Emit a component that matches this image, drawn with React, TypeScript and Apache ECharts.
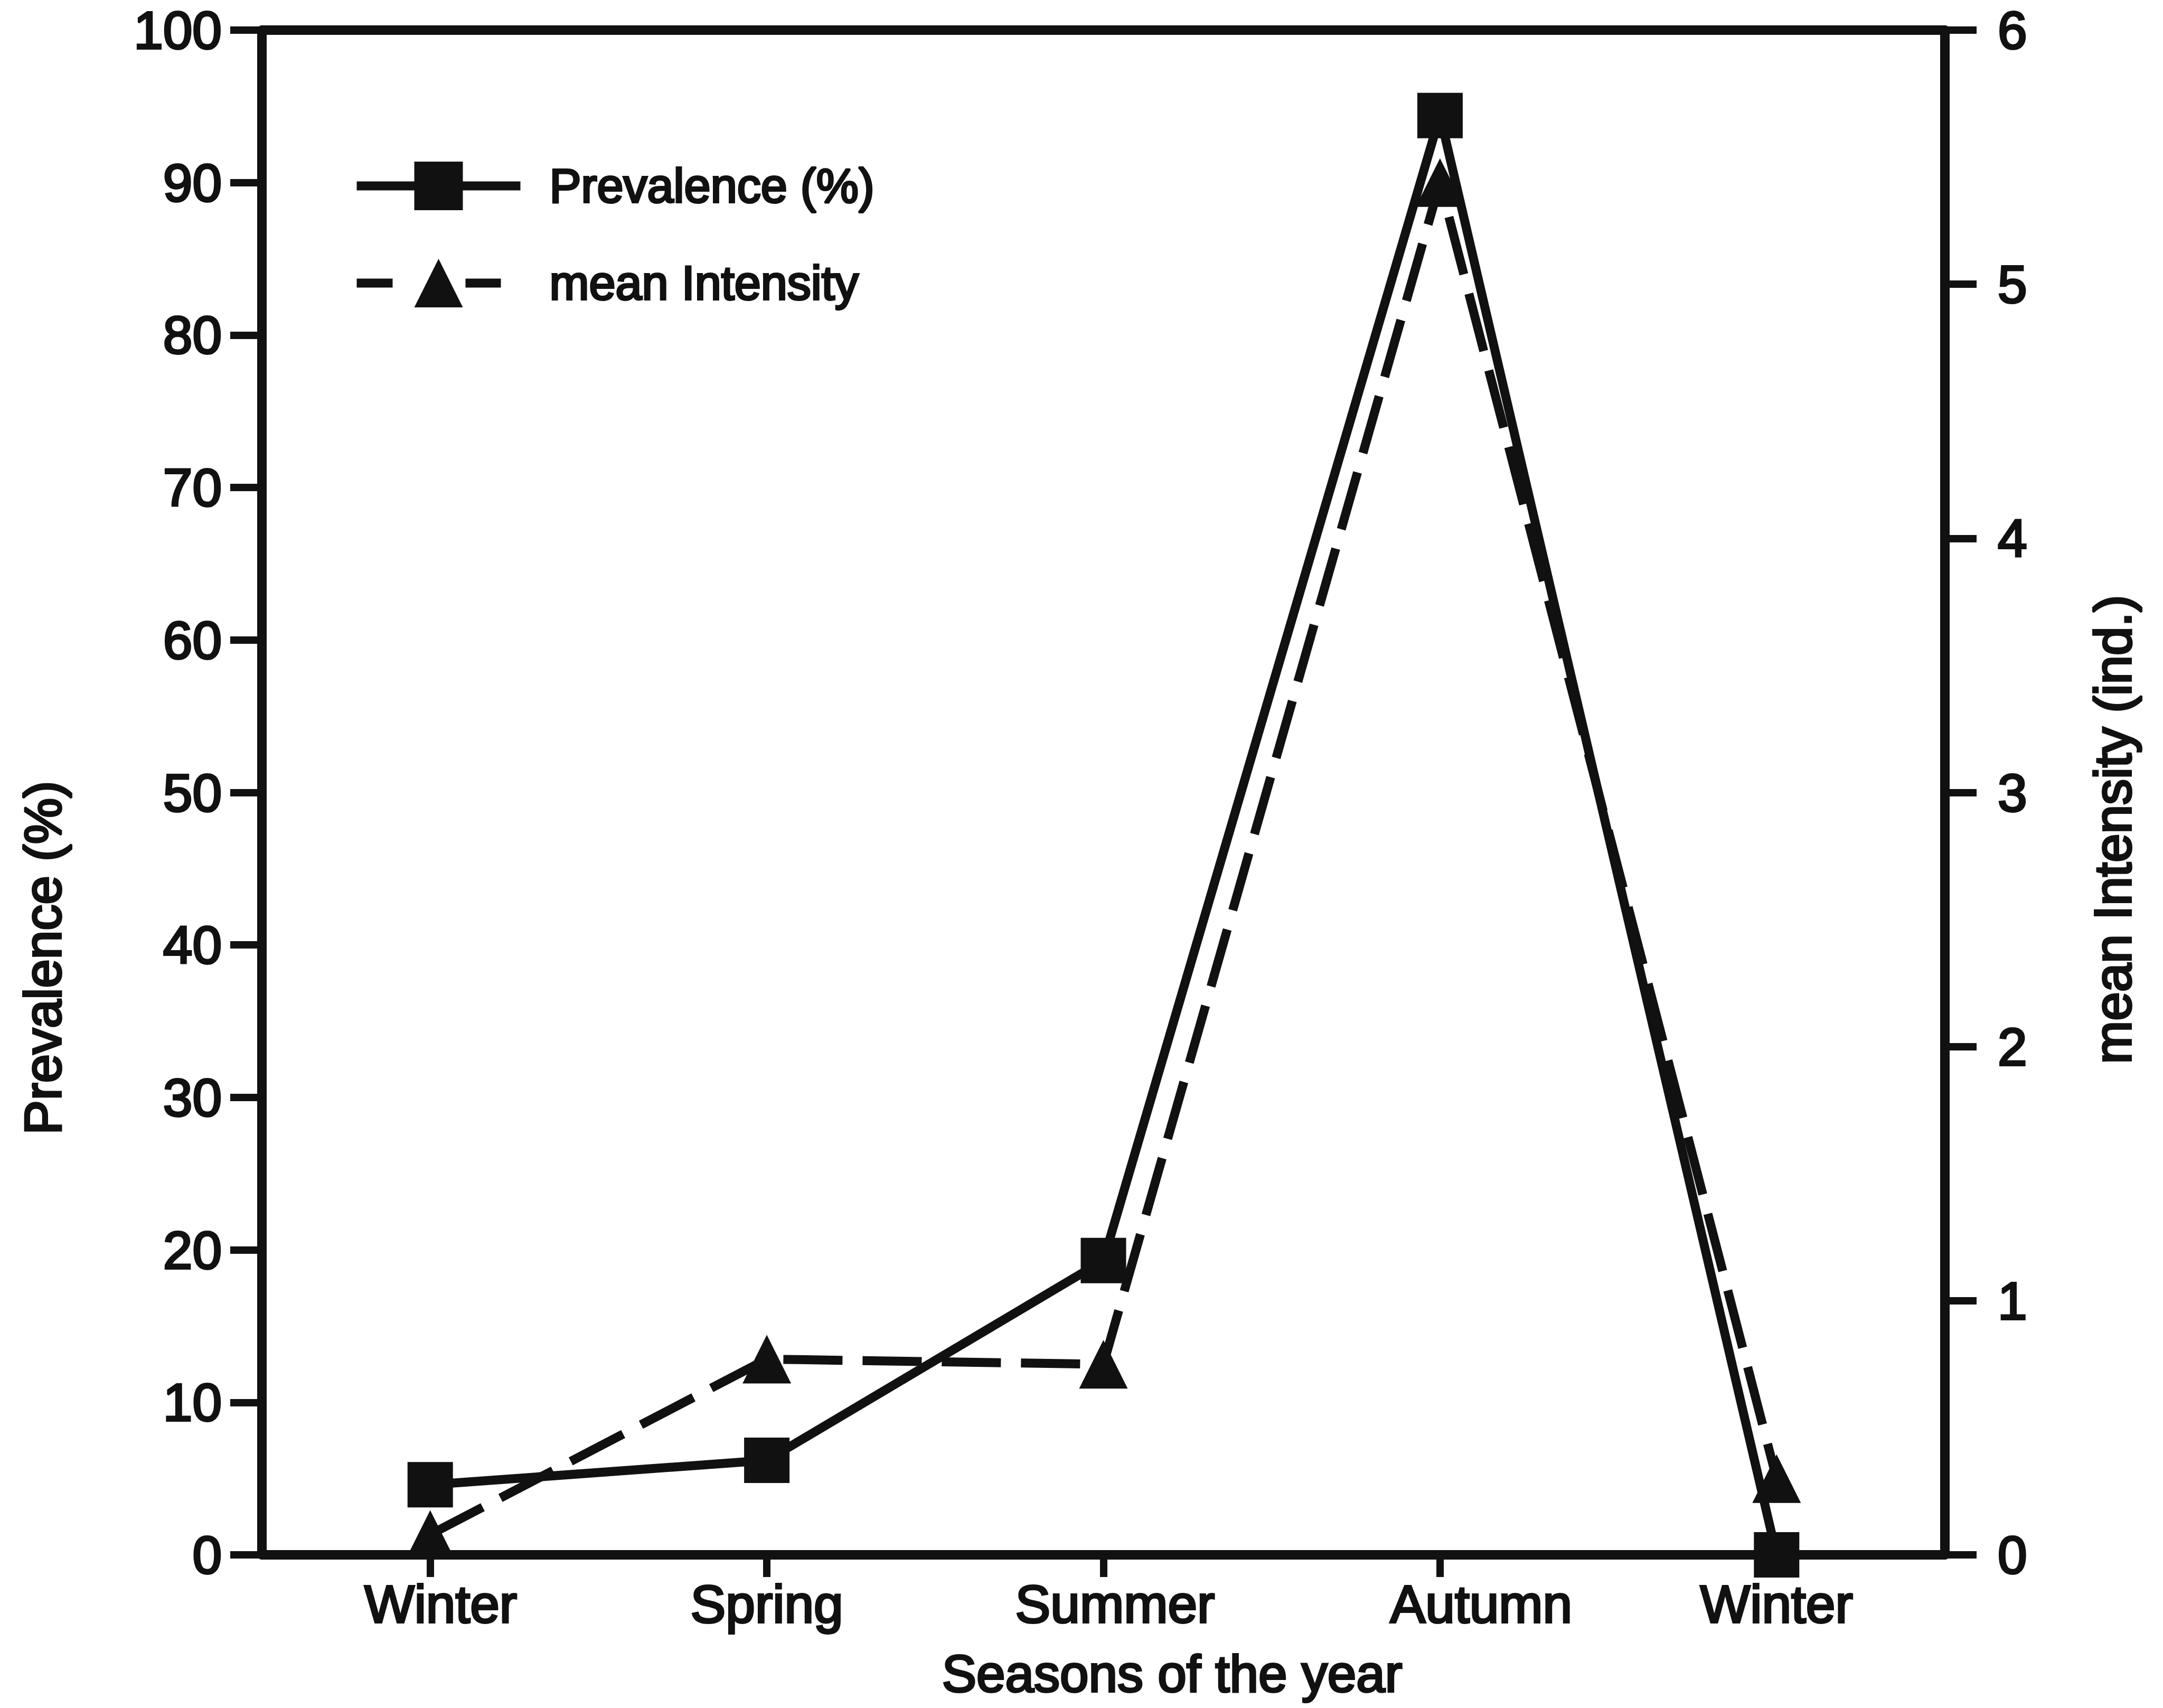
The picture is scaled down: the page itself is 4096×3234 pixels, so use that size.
import React, { useEffect, useRef } from 'react';
import * as echarts from 'echarts';

const seasons = ['Winter', 'Spring', 'Summer', 'Autumn', 'Winter'];
const prevalence = [4.6, 6.2, 19.3, 94.4, 0];
const meanIntensity = [0.08, 0.77, 0.75, 5.4, 0.3];
const prevalenceAxis = { min: 0, max: 100, step: 10 };
const intensityAxis = { min: 0, max: 6, step: 1 };

// label nudges (styling only, in px of left padding)
const labelNudge = [40, 0, 44, 156, 0];

const INK = '#111';
const FONT = '"Liberation Sans", Arial, Helvetica, sans-serif';
const BOLDEN = { textBorderColor: INK, textBorderWidth: 4 };

export default function App() {
  const ref = useRef<HTMLDivElement>(null);
  useEffect(() => {
    document.body.style.margin = '0';
    const chart = echarts.init(ref.current!, null, { renderer: 'svg' });
    const axisLine = { show: true, onZero: false, lineStyle: { color: INK, width: 18 } };
    const tickStyle = { color: INK, width: 14 };
    const option: any = {
      animation: false,
      backgroundColor: '#fff',
      textStyle: { fontFamily: FONT, color: INK },
      grid: { left: 496, right: 413, top: 57, bottom: 290, containLabel: false },
      legend: {
        orient: 'vertical',
        left: 662,
        top: 300,
        itemWidth: 310,
        itemHeight: 115,
        itemGap: 90,
        lineStyle: { width: 17, color: INK },
        textStyle: { fontSize: 90, color: INK, fontFamily: FONT, padding: [36, 0, 0, 50], ...BOLDEN },
        data: [
          { name: 'Prevalence (%)', lineStyle: { width: 17, type: 'solid' } },
          { name: 'mean Intensity', lineStyle: { width: 17, type: [68, 138, 67, 200] } },
        ],
      },
      xAxis: [
        {
          type: 'category',
          data: seasons.map((s, i) => ({ value: s, textStyle: { padding: [0, 0, 0, labelNudge[i]] } })),
          boundaryGap: true,
          position: 'bottom',
          axisLine,
          axisTick: { show: true, alignWithLabel: true, length: 42, lineStyle: tickStyle },
          axisLabel: { margin: 43, fontSize: 100, color: INK, fontFamily: FONT, interval: 0, ...BOLDEN },
          splitLine: { show: false },
          name: 'Seasons of the year',
          nameLocation: 'middle',
          nameGap: 176,
          nameTextStyle: { fontSize: 98, color: INK, fontFamily: FONT, padding: [0, 0, 0, 260], ...BOLDEN },
        },
        {
          type: 'category',
          data: seasons,
          boundaryGap: true,
          position: 'top',
          axisLine,
          axisTick: { show: false },
          axisLabel: { show: false },
          splitLine: { show: false },
        },
      ],
      yAxis: [
        {
          type: 'value',
          position: 'left',
          min: prevalenceAxis.min,
          max: prevalenceAxis.max,
          interval: prevalenceAxis.step,
          axisLine,
          axisTick: { show: true, length: 60, lineStyle: tickStyle },
          axisLabel: { margin: 76, fontSize: 100, color: INK, fontFamily: FONT, padding: [26, 0, 0, 0], ...BOLDEN },
          splitLine: { show: false },
          name: 'Prevalence (%)',
          nameLocation: 'middle',
          nameRotate: 90,
          nameGap: 366,
          nameTextStyle: { fontSize: 98, color: INK, fontFamily: FONT, padding: [0, 626, 0, 0], ...BOLDEN },
        },
        {
          type: 'value',
          position: 'right',
          min: intensityAxis.min,
          max: intensityAxis.max,
          interval: intensityAxis.step,
          axisLine,
          axisTick: { show: true, length: 60, lineStyle: tickStyle },
          axisLabel: { margin: 100, fontSize: 100, color: INK, fontFamily: FONT, padding: [26, 0, 0, 0], ...BOLDEN },
          splitLine: { show: false },
          name: 'mean Intensity (ind.)',
          nameLocation: 'middle',
          nameRotate: 90,
          nameGap: 269,
          nameTextStyle: { fontSize: 98, color: INK, fontFamily: FONT, padding: [0, 140, 0, 0], ...BOLDEN },
        },
      ],
      series: [
        {
          name: 'Prevalence (%)',
          type: 'line',
          xAxisIndex: 0,
          yAxisIndex: 0,
          data: prevalence,
          symbol: 'rect',
          symbolSize: 86,
          itemStyle: { color: INK },
          lineStyle: { color: INK, width: 17, type: 'solid' },
          z: 3,
        },
        {
          name: 'mean Intensity',
          type: 'line',
          xAxisIndex: 0,
          yAxisIndex: 1,
          data: meanIntensity,
          symbol: 'triangle',
          symbolSize: 92,
          itemStyle: { color: INK },
          lineStyle: { color: INK, width: 17, type: [112, 38] },
          z: 4,
        },
      ],
    };
    chart.setOption(option);
    return () => chart.dispose();
  }, []);
  return <div ref={ref} style={{ width: 4096, height: 3234, background: '#fff' }} />;
}
